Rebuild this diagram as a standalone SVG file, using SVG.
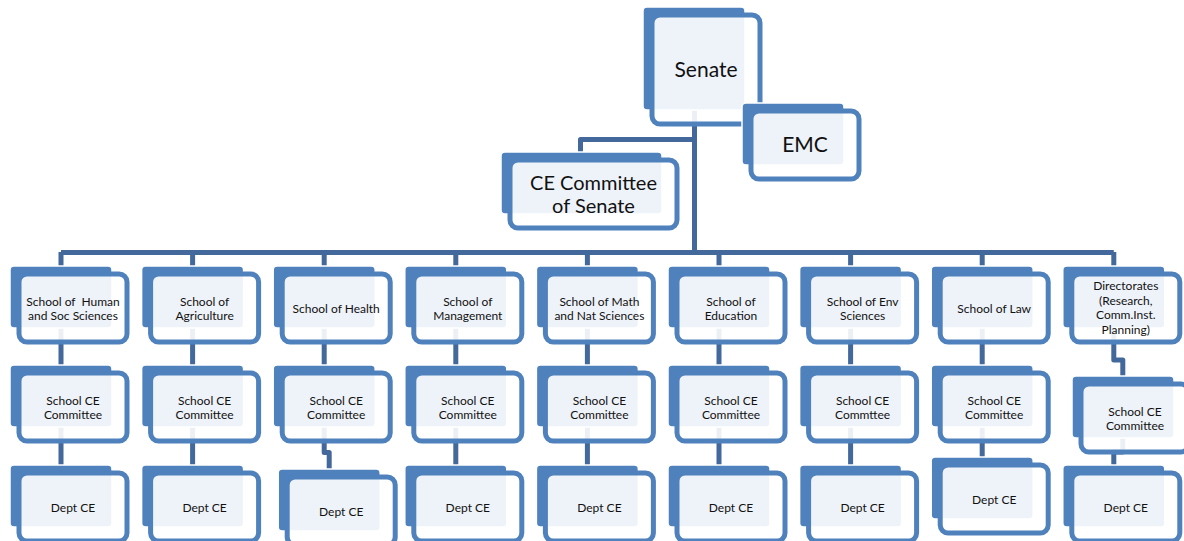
<svg xmlns="http://www.w3.org/2000/svg" width="1184" height="541" viewBox="0 0 1184 541">
<style>
.b{fill:#4F81BD;stroke:#fff;stroke-width:1.5}
.f{fill:#fff;fill-opacity:.9;stroke:#4F81BD;stroke-width:5}
.c{fill:none;stroke:#43699C;stroke-width:5;stroke-linejoin:round}
.t{font-family:Lato,"Liberation Sans",sans-serif;font-size:12px;text-anchor:middle;fill:#111}
.L{font-size:21px}
.M{font-size:20px}
</style>
<rect width="1184" height="541" fill="#fff"/>
<g id="connectors">
<path class="c" d="M694.5,110V252.5M694.5,139.5H580.5V152M61,252.5H1113.8"/>
<path class="c" d="M61,252V266M192.6,252V266M324.2,252V266M455.8,252V266M587.4,252V266M719,252V266M850.6,252V266M982.2,252V266M1113.8,252V266"/>
<path class="c" d="M61,328V365M192.6,328V365M324.2,328V365M455.8,328V365M587.4,328V365M719,328V365M850.6,328V365M982.2,328V365M1113.8,328V360H1122.8V376"/>
<path class="c" d="M61,427V465M192.6,427V465M324.2,427V452.5H329.2V469M455.8,427V465M587.4,427V465M719,427V465M850.6,427V465M982.2,427V457M1122.8,438V452H1113.8V465"/>
</g>
<g id="senate"><rect class="b" x="643" y="7" width="102" height="103" rx="4"/><rect class="f" x="652" y="15" width="108" height="109" rx="8"/><text class="t L" x="706" y="77">Senate</text></g>
<g id="emc"><rect class="b" x="742" y="103" width="102" height="62" rx="4"/><rect class="f" x="751" y="111" width="108" height="68" rx="8"/><text class="t L" x="805" y="152">EMC</text></g>
<g id="ce-senate"><rect class="b" x="501" y="152" width="161" height="62" rx="4"/><rect class="f" x="510" y="160" width="167" height="68" rx="8"/><text class="t M" x="593.5" y="190">CE Committee</text><text class="t M" x="593.5" y="212.7">of Senate</text></g>

<g id="s1"><rect class="b" x="10" y="266" width="102" height="62" rx="4"/><rect class="f" x="19" y="274" width="108" height="68" rx="8"/><text class="t" x="73" y="306" style="white-space:pre">School of  Human</text><text class="t" x="73" y="320">and Soc Sciences</text></g>
<g id="s2"><rect class="b" x="141.6" y="266" width="102" height="62" rx="4"/><rect class="f" x="150.6" y="274" width="108" height="68" rx="8"/><text class="t" x="204.6" y="306">School of</text><text class="t" x="204.6" y="320">Agriculture</text></g>
<g id="s3"><rect class="b" x="273.2" y="266" width="102" height="62" rx="4"/><rect class="f" x="282.2" y="274" width="108" height="68" rx="8"/><text class="t" x="336.2" y="313">School of Health</text></g>
<g id="s4"><rect class="b" x="404.8" y="266" width="102" height="62" rx="4"/><rect class="f" x="413.8" y="274" width="108" height="68" rx="8"/><text class="t" x="467.8" y="306">School of</text><text class="t" x="467.8" y="320">Management</text></g>
<g id="s5"><rect class="b" x="536.4" y="266" width="102" height="62" rx="4"/><rect class="f" x="545.4" y="274" width="108" height="68" rx="8"/><text class="t" x="599.4" y="306">School of Math</text><text class="t" x="599.4" y="320">and Nat Sciences</text></g>
<g id="s6"><rect class="b" x="668" y="266" width="102" height="62" rx="4"/><rect class="f" x="677" y="274" width="108" height="68" rx="8"/><text class="t" x="731" y="306">School of</text><text class="t" x="731" y="320">Education</text></g>
<g id="s7"><rect class="b" x="799.6" y="266" width="102" height="62" rx="4"/><rect class="f" x="808.6" y="274" width="108" height="68" rx="8"/><text class="t" x="862.6" y="306">School of Env</text><text class="t" x="862.6" y="320">Sciences</text></g>
<g id="s8"><rect class="b" x="931.2" y="266" width="102" height="62" rx="4"/><rect class="f" x="940.2" y="274" width="108" height="68" rx="8"/><text class="t" x="994.2" y="313">School of Law</text></g>
<g id="s9"><rect class="b" x="1062.8" y="266" width="102" height="62" rx="4"/><rect class="f" x="1071.8" y="274" width="108" height="68" rx="8"/><text class="t" x="1125.8" y="290">Directorates</text><text class="t" x="1125.8" y="304.5">(Research,</text><text class="t" x="1125.8" y="319">Comm.Inst.</text><text class="t" x="1125.8" y="333.5">Planning)</text></g>

<g id="c1"><rect class="b" x="10" y="365" width="102" height="62" rx="4"/><rect class="f" x="19" y="373" width="108" height="68" rx="8"/><text class="t" x="73" y="405">School CE</text><text class="t" x="73" y="419">Committee</text></g>
<g id="c2"><rect class="b" x="141.6" y="365" width="102" height="62" rx="4"/><rect class="f" x="150.6" y="373" width="108" height="68" rx="8"/><text class="t" x="204.6" y="405">School CE</text><text class="t" x="204.6" y="419">Committee</text></g>
<g id="c3"><rect class="b" x="273.2" y="365" width="102" height="62" rx="4"/><rect class="f" x="282.2" y="373" width="108" height="68" rx="8"/><text class="t" x="336.2" y="405">School CE</text><text class="t" x="336.2" y="419">Committee</text></g>
<g id="c4"><rect class="b" x="404.8" y="365" width="102" height="62" rx="4"/><rect class="f" x="413.8" y="373" width="108" height="68" rx="8"/><text class="t" x="467.8" y="405">School CE</text><text class="t" x="467.8" y="419">Committee</text></g>
<g id="c5"><rect class="b" x="536.4" y="365" width="102" height="62" rx="4"/><rect class="f" x="545.4" y="373" width="108" height="68" rx="8"/><text class="t" x="599.4" y="405">School CE</text><text class="t" x="599.4" y="419">Committee</text></g>
<g id="c6"><rect class="b" x="668" y="365" width="102" height="62" rx="4"/><rect class="f" x="677" y="373" width="108" height="68" rx="8"/><text class="t" x="731" y="405">School CE</text><text class="t" x="731" y="419">Committee</text></g>
<g id="c7"><rect class="b" x="799.6" y="365" width="102" height="62" rx="4"/><rect class="f" x="808.6" y="373" width="108" height="68" rx="8"/><text class="t" x="862.6" y="405">School CE</text><text class="t" x="862.6" y="419">Commttee</text></g>
<g id="c8"><rect class="b" x="931.2" y="365" width="102" height="62" rx="4"/><rect class="f" x="940.2" y="373" width="108" height="68" rx="8"/><text class="t" x="994.2" y="405">School CE</text><text class="t" x="994.2" y="419">Committee</text></g>
<g id="c9"><rect class="b" x="1072" y="376" width="102" height="62" rx="4"/><rect class="f" x="1081" y="384" width="108" height="68" rx="8"/><text class="t" x="1135" y="416">School CE</text><text class="t" x="1135" y="430">Committee</text></g>

<g id="d1"><rect class="b" x="10" y="465" width="102" height="62" rx="4"/><rect class="f" x="19" y="473" width="108" height="68" rx="8"/><text class="t" x="73" y="512">Dept CE</text></g>
<g id="d2"><rect class="b" x="141.6" y="465" width="102" height="62" rx="4"/><rect class="f" x="150.6" y="473" width="108" height="68" rx="8"/><text class="t" x="204.6" y="512">Dept CE</text></g>
<g id="d3"><rect class="b" x="278.2" y="469" width="102" height="62" rx="4"/><rect class="f" x="287.2" y="477" width="108" height="68" rx="8"/><text class="t" x="341.2" y="516">Dept CE</text></g>
<g id="d4"><rect class="b" x="404.8" y="465" width="102" height="62" rx="4"/><rect class="f" x="413.8" y="473" width="108" height="68" rx="8"/><text class="t" x="467.8" y="512">Dept CE</text></g>
<g id="d5"><rect class="b" x="536.4" y="465" width="102" height="62" rx="4"/><rect class="f" x="545.4" y="473" width="108" height="68" rx="8"/><text class="t" x="599.4" y="512">Dept CE</text></g>
<g id="d6"><rect class="b" x="668" y="465" width="102" height="62" rx="4"/><rect class="f" x="677" y="473" width="108" height="68" rx="8"/><text class="t" x="731" y="512">Dept CE</text></g>
<g id="d7"><rect class="b" x="799.6" y="465" width="102" height="62" rx="4"/><rect class="f" x="808.6" y="473" width="108" height="68" rx="8"/><text class="t" x="862.6" y="512">Dept CE</text></g>
<g id="d8"><rect class="b" x="931.2" y="457" width="102" height="62" rx="4"/><rect class="f" x="940.2" y="465" width="108" height="68" rx="8"/><text class="t" x="994.2" y="504">Dept CE</text></g>
<g id="d9"><rect class="b" x="1062.8" y="465" width="102" height="62" rx="4"/><rect class="f" x="1071.8" y="473" width="108" height="68" rx="8"/><text class="t" x="1125.8" y="512">Dept CE</text></g>
</svg>
